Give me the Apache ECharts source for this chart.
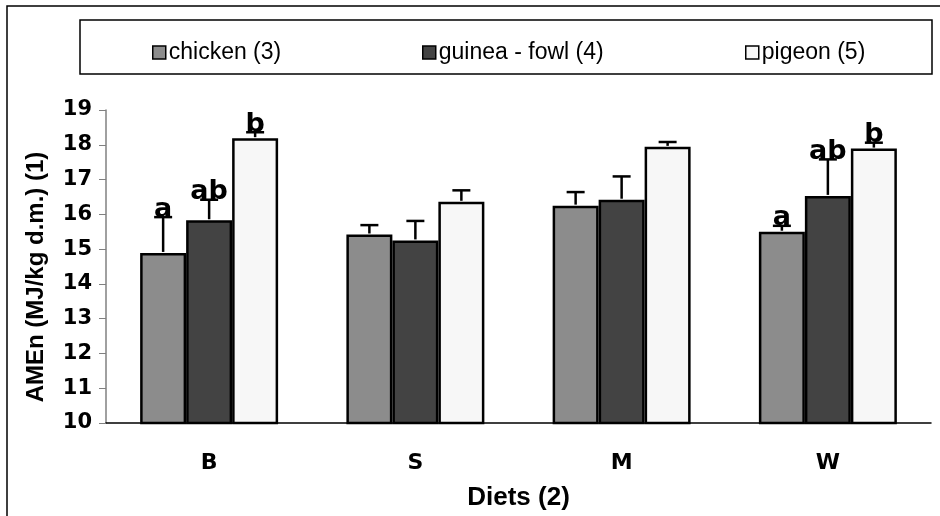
<!DOCTYPE html>
<html>
<head>
<meta charset="utf-8">
<script src="https://cdn.jsdelivr.net/npm/echarts@6/dist/echarts.min.js"></script>
<style>
  html, body { margin: 0; padding: 0; background: #fff; }
  #chart-amen { width: 940px; height: 516px; }
</style>
</head>
<body>
<div id="chart-amen"></div>
<script>
// data
const diets = ['B', 'S', 'M', 'W'];
const birds = ['chicken (3)', 'guinea - fowl (4)', 'pigeon (5)'];
const chicken = [14.89, 15.42, 16.25, 15.50];
const guinea = [15.83, 15.25, 16.42, 16.53];
const pigeon = [18.19, 16.36, 17.94, 17.89];
const chickenErr = [1.03, 0.27, 0.39, 0.17];
const guineaErr = [0.59, 0.56, 0.67, 1.05];
const pigeonErr = [0.17, 0.33, 0.14, 0.17];
const chickenSig = ['a', '', '', 'a'];
const guineaSig = ['ab', '', '', 'ab'];
const pigeonSig = ['b', '', '', 'b'];
const yTicks = [10, 11, 12, 13, 14, 15, 16, 17, 18, 19];

const colors = ['#8c8c8c', '#434343', '#f7f7f7'];
const BAR_FRAC = 0.223;
const FONT = 'Liberation Sans, Arial, sans-serif';
const HEAVY = 'DejaVu Sans, Liberation Sans, sans-serif';

const means = [chicken, guinea, pigeon];
const errs = [chickenErr, guineaErr, pigeonErr];
const sigs = [chickenSig, guineaSig, pigeonSig];

// one row per bar: [category, mean, error, bar index, letter]
const errRows = [];
means.forEach((arr, s) => {
  arr.forEach((v, i) => {
    errRows.push([i, v, errs[s][i], s, sigs[s][i]]);
  });
});

function renderErr(params, api) {
  const cat = api.value(0);
  const v = api.value(1);
  const e = api.value(2);
  const s = api.value(3);
  const letter = errRows[params.dataIndex][4];
  const band = api.size([1, 0])[0];
  const bw = band * BAR_FRAC;
  const base = api.coord([cat, v]);
  const hi = api.coord([cat, v + e]);
  const x = base[0] + (s - 1) * bw;
  const style = { stroke: '#000', lineWidth: 2.5 };
  const children = [
    { type: 'line', shape: { x1: x, y1: base[1] - 1, x2: x, y2: hi[1] }, style: style },
    { type: 'line', shape: { x1: x - 9, y1: hi[1], x2: x + 9, y2: hi[1] }, style: style }
  ];
  if (letter) {
    children.push({
      type: 'text',
      style: {
        text: letter, x: x, y: hi[1] + 6,
        align: 'center', verticalAlign: 'bottom',
        font: 'bold 27px ' + HEAVY, fill: '#000'
      }
    });
  }
  return { type: 'group', children: children };
}

function legendAt(name, left) {
  return {
    data: [name],
    left: left,
    top: 36,
    icon: 'rect',
    itemWidth: 13,
    itemHeight: 13,
    itemGap: 0,
    selectedMode: false,
    itemStyle: { borderColor: '#000', borderWidth: 1.5 },
    textStyle: { fontFamily: FONT, fontSize: 23, color: '#000', padding: [0, 0, 0, -2] }
  };
}

const chart = echarts.init(document.getElementById('chart-amen'));
chart.setOption({
  animation: false,
  backgroundColor: '#fff',
  color: colors,
  graphic: [
    { type: 'rect', shape: { x: 7, y: 6, width: 980, height: 600 },
      style: { fill: 'none', stroke: '#000', lineWidth: 1.5 }, silent: true },
    { type: 'rect', shape: { x: 80, y: 20, width: 852, height: 54 },
      style: { fill: '#fff', stroke: '#000', lineWidth: 1.5 }, silent: true, z: -1 },
    { type: 'text', x: 36, y: 277, rotation: Math.PI / 2,
      style: { text: 'AMEn (MJ/kg d.m.) (1)', font: 'bold 24px ' + FONT,
        fill: '#000', align: 'center', verticalAlign: 'middle' } }
  ],
  legend: [
    legendAt(birds[0], 147),
    legendAt(birds[1], 417),
    legendAt(birds[2], 740)
  ],
  grid: { left: 106, right: 9, top: 110, bottom: 82 },
  xAxis: [
    {
      type: 'category',
      data: diets,
      name: 'Diets (2)',
      nameLocation: 'middle',
      nameGap: 62,
      nameTextStyle: { fontFamily: FONT, fontWeight: 'bold', fontSize: 26, color: '#000' },
      axisLine: { lineStyle: { color: '#000', width: 1.5 } },
      axisTick: { length: 8, lineStyle: { color: '#555' } },
      axisLabel: { fontFamily: HEAVY, fontWeight: 'bold', fontSize: 22, color: '#000', margin: 29 }
    },
    {
      type: 'category',
      data: diets,
      position: 'bottom',
      axisLine: { show: false },
      axisTick: { inside: true, length: 7, lineStyle: { color: '#555' } },
      axisLabel: { show: false }
    }
  ],
  yAxis: {
    type: 'value',
    min: yTicks[0],
    max: yTicks[yTicks.length - 1],
    interval: 1,
    axisLine: { show: true, lineStyle: { color: '#808080', width: 1.5 } },
    axisTick: { show: true, length: 7, lineStyle: { color: '#808080' } },
    splitLine: { show: false },
    axisLabel: { fontFamily: HEAVY, fontWeight: 'bold', fontSize: 21, color: '#000', margin: 14 }
  },
  series: [
    ...means.map((arr, s) => ({
      name: birds[s],
      type: 'bar',
      data: arr,
      barWidth: (BAR_FRAC * 100) + '%',
      barGap: '0%',
      itemStyle: { borderColor: '#000', borderWidth: 2.5 }
    })),
    {
      type: 'custom',
      renderItem: renderErr,
      data: errRows.map(r => r.slice(0, 4)),
      z: 5,
      silent: true
    }
  ]
});
</script>
</body>
</html>
